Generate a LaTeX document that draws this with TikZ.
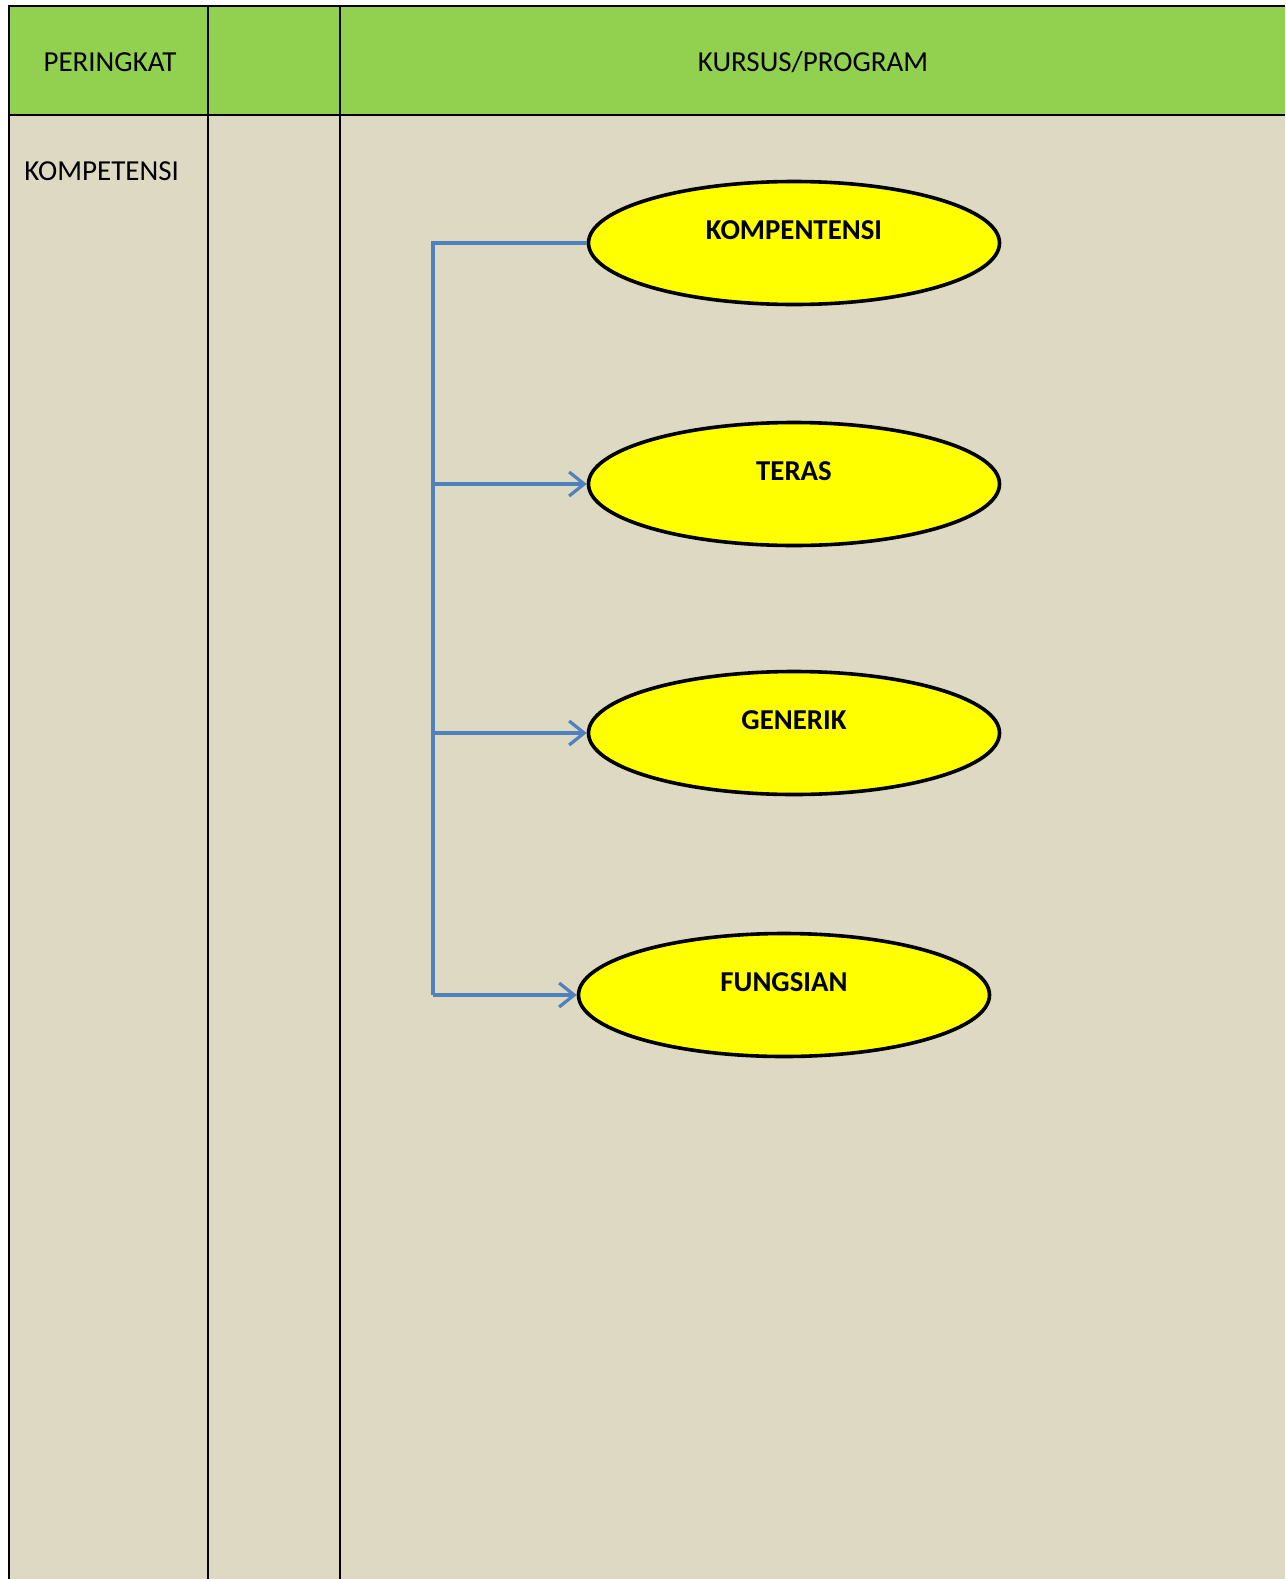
\documentclass[tikz,border=0pt]{standalone}
\usepackage{fontspec}
\setmainfont{Carlito}
\usetikzlibrary{shapes.geometric,arrows.meta}
\definecolor{hdrgreen}{HTML}{92D050}
\definecolor{bodybeige}{HTML}{DDD9C3}
\definecolor{linkblue}{HTML}{4F81BD}
\definecolor{ovalyellow}{HTML}{FFFF00}
\begin{document}
\begin{tikzpicture}[x=0.5pt,y=-0.5pt,
    oval/.style={ellipse,draw,line width=1.8pt,fill=ovalyellow,minimum width=205.5pt,minimum height=61.5pt,
        font=\fontsize{14.4}{17}\selectfont\bfseries,text height=10pt,text depth=14pt},
    cell/.style={font=\fontsize{14.5}{17}\selectfont},
    link/.style={linkblue,line width=1.6pt},
    grid/.style={line width=0.75pt}]
    \useasboundingbox (0,0) rectangle (1285,1579);
    \fill[white] (0,0) rectangle (1285,1579);
    \fill[hdrgreen] (9,6) rectangle (1285,115);
    \fill[bodybeige] (9,115) rectangle (1285,1579);
    \draw[grid] (1285,6)--(9,6)--(9,1579);
    \draw[grid] (9,115)--(1285,115);
    \draw[grid] (208,6)--(208,1579);
    \draw[grid] (340,6)--(340,1579);

    \node[cell] (peringkat) at (110,62) {PERINGKAT};
    \node[cell] (kursus) at (813,62) {KURSUS/PROGRAM};
    \node[cell,anchor=west,inner sep=0pt] (tahap) at (24,171) {KOMPETENSI};

    \node[oval] (kom) at (794,243) {KOMPENTENSI};
    \node[oval] (ter) at (794,484) {TERAS};
    \node[oval] (gen) at (794,733) {GENERIK};
    \node[oval] (fun) at (784,995) {FUNGSIAN};

    \coordinate (trunk) at (433,0);
    \draw[link] (kom.west)--(trunk |- kom.west)--(trunk |- fun.west);
    \foreach \n in {ter,gen,fun}
        \draw[link,-{Straight Barb[length=7.5pt,width=12pt]}] (trunk |- \n.west)--(\n.west);
\end{tikzpicture}
\end{document}
